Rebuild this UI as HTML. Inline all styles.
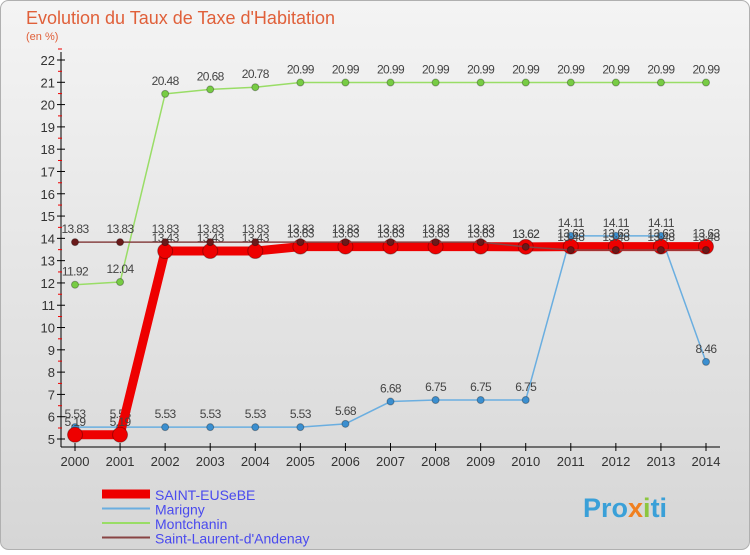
<!DOCTYPE html>
<html><head><meta charset="utf-8"><style>
body{margin:0;width:750px;height:550px;overflow:hidden;font-family:"Liberation Sans",sans-serif}
</style></head><body>
<svg width="750" height="550" xmlns="http://www.w3.org/2000/svg">
<defs><linearGradient id="bg" x1="0" y1="0" x2="0" y2="1"><stop offset="0" stop-color="#f4f4f4"/><stop offset="1" stop-color="#d6d6d6"/></linearGradient></defs>
<rect x="0.5" y="0.5" width="749" height="549" rx="8" fill="url(#bg)" stroke="#b0b0b0"/>
<text x="26" y="24" font-size="18" fill="#e0603a">Evolution du Taux de Taxe d'Habitation</text>
<text x="26" y="40" font-size="11" fill="#e0603a">(en %)</text>
<g id="axes"></g><g id="series"></g><g id="legend"></g>
<text x="583" y="517" font-size="27" font-weight="bold" fill="#3aa0d8">Pro<tspan fill="#f08020">x</tspan><tspan fill="#8cc63f">i</tspan>ti</text>
</svg>
<script>
const years=[2000,2001,2002,2003,2004,2005,2006,2007,2008,2009,2010,2011,2012,2013,2014];
const yTicks=[5,6,7,8,9,10,11,12,13,14,15,16,17,18,19,20,21,22];
const saintEusebe=[5.19,5.19,13.43,13.43,13.43,13.63,13.63,13.63,13.63,13.63,13.62,13.63,13.63,13.63,13.63];
const marigny=[5.53,5.53,5.53,5.53,5.53,5.53,5.68,6.68,6.75,6.75,6.75,14.11,14.11,14.11,8.46];
const montchanin=[11.92,12.04,20.48,20.68,20.78,20.99,20.99,20.99,20.99,20.99,20.99,20.99,20.99,20.99,20.99];
const saintLaurent=[13.83,13.83,13.83,13.83,13.83,13.83,13.83,13.83,13.83,13.83,13.62,13.48,13.48,13.48,13.48];
const names=["SAINT-EUSeBE","Marigny","Montchanin","Saint-Laurent-d'Andenay"];
const NS="http://www.w3.org/2000/svg";
const X=i=>75+i*(706-75)/14;
const Y=v=>439-(v-5)*(439-60)/17;
function mk(t,a,p){const e=document.createElementNS(NS,t);for(const k in a)e.setAttribute(k,a[k]);p.appendChild(e);return e;}
const ax=document.getElementById('axes');
let yl=mk('line',{x1:61,y1:52,x2:61,y2:447,stroke:'#000'},ax);


let xl=mk('line',{x1:61,y1:447,x2:720,y2:447,stroke:'#000'},ax);


yTicks.forEach(v=>{const y=Y(v);
mk('line',{x1:57,y1:y,x2:65,y2:y,stroke:'#000'},ax);
mk('line',{x1:58,y1:y-11,x2:62,y2:y-11,stroke:'#e00'},ax);
const t=mk('text',{x:55,y:y+5,'font-size':13,'text-anchor':'end',fill:'#333'},ax);t.textContent=v;

});
years.forEach((yr,i)=>{const x=X(i);
mk('line',{x1:x,y1:443,x2:x,y2:451,stroke:'#000'},ax);
const t=mk('text',{x:x,y:466,'font-size':13,'text-anchor':'middle',fill:'#333'},ax);t.textContent=yr;

});
const sg=document.getElementById('series');
function series(data,color,w,r,dot,name){
const g=mk('g',{},sg);


mk('polyline',{points:data.map((v,i)=>X(i)+','+Y(v)).join(' '),fill:'none',stroke:color,'stroke-width':w,'stroke-linejoin':'round'},g);
data.forEach((v,i)=>{const c=mk('circle',{cx:X(i),cy:Y(v),r:r,fill:dot,stroke:'rgba(0,0,0,0.3)'},g);


const t=mk('text',{x:X(i),y:Y(v)-9,'font-size':12,'text-anchor':'middle',fill:'#444','letter-spacing':'-0.6'},g);t.textContent=v.toFixed(2);

});}
series(montchanin,'#99dd66',1.5,3.5,'#77cc44','series-montchanin');
series(marigny,'#6aaee0',1.5,3.5,'#3b8fd0','series-marigny');
series(saintEusebe,'#ee0000',9,7.5,'#ee0000','series-saint-eusebe');
series(saintLaurent,'#884444',1.5,3.5,'#6a1a1a','series-saint-laurent');
const lg=document.getElementById('legend');
const lc=['#ee0000','#6aaee0','#99dd66','#884444'],lw=[9,2,2,2];
names.forEach((n,i)=>{const y=494+i*14.5;
const g=mk('g',{},lg);


mk('line',{x1:102,y1:y,x2:150,y2:y,stroke:lc[i],'stroke-width':lw[i]},g);
const t=mk('text',{x:155,y:y+6,'font-size':14,fill:'#4a4aee'},g);t.textContent=n;});
</script>
</body></html>
